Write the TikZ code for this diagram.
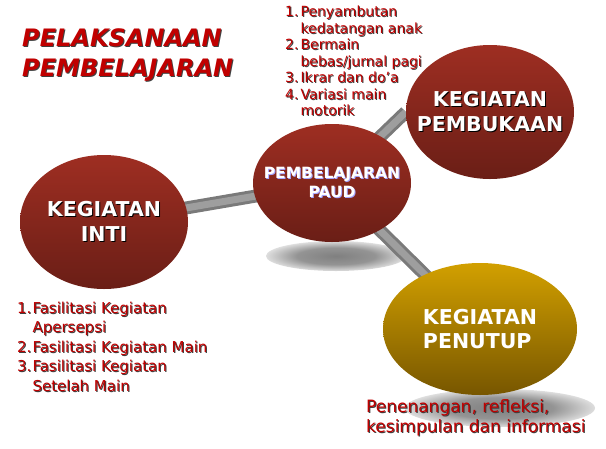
\documentclass[tikz,border=0pt]{standalone}
\usepackage{fontspec}
\setmainfont{DejaVu Sans}
\usetikzlibrary{shapes.geometric,backgrounds}

\definecolor{judulred}{HTML}{C00000}
\definecolor{marontop}{HTML}{9E2E22}
\definecolor{maronbot}{HTML}{6A1E16}
\definecolor{emastop}{HTML}{D2A000}
\definecolor{emasbot}{HTML}{775600}
\newcommand\shd[2][black!75]{\makebox[0pt][l]{\raisebox{-1pt}{\hspace*{1pt}\textcolor{#1}{#2}}}#2}
\newcommand\tengah[1]{\makebox[0pt]{#1}}
\pgfdeclareradialshading{bayangan}{\pgfpoint{0bp}{0bp}}{color(0bp)=(black!50); color(14bp)=(black!42); color(30bp)=(white); color(50bp)=(white)}

\begin{document}
\begin{tikzpicture}[x=1pt,y=-1pt]
        \tikzstyle{kegiatan} = [ellipse, inner sep=0pt, align=center, text=white, font=\bfseries\fontsize{20.5}{25}\selectfont, top color=marontop, bottom color=maronbot]
        \tikzstyle{penutup} = [kegiatan, align=left, top color=emastop, bottom color=emasbot, font=\bfseries\fontsize{20.5}{24}\selectfont]
        \tikzstyle{daftar} = [anchor=north west, inner sep=0pt, text=judulred]
        \tikzstyle{bayang} = [ellipse, inner sep=0pt, shading=bayangan]
        \tikzstyle{batang} = [line width=3pt, draw=black!52, double=black!38, double distance=7pt]

        \useasboundingbox (0,0) rectangle (606,448);

        \node (judul) [daftar, align=left, font=\bfseries\itshape\fontsize{24}{30}\selectfont] at (22,28) {\shd{PELAKSANAAN}\\\shd{PEMBELAJARAN}};

        \node (paud) [kegiatan, minimum width=158pt, minimum height=118pt, font=\bfseries\fontsize{15.5}{19}\selectfont] at (332,183) {\tengah{\shd[blue!35]{PEMBELAJARAN}}\\\tengah{\shd[blue!35]{PAUD}}};
        \node (inti) [kegiatan, minimum width=168pt, minimum height=134pt] at (104,222) {\tengah{\shd[black]{KEGIATAN}}\\\tengah{\shd[black]{INTI}}};
        \node (buka) [kegiatan, minimum width=168pt, minimum height=134pt] at (490,112) {\tengah{\shd[black]{KEGIATAN}}\\\tengah{\shd[black]{PEMBUKAAN}}};
        \node (tutup) [penutup, minimum width=194pt, minimum height=132pt] at (480,329) {KEGIATAN\\PENUTUP};

        \begin{pgfonlayer}{background}
        \node (paudbayang) [bayang, minimum width=140pt, minimum height=30pt] at (336,256) {};
        \node (tutupbayang) [bayang, minimum width=190pt, minimum height=38pt] at (500,408) {};
        \draw [batang] (paud.center) -- (inti.center);
        \draw [batang] (paud.center) -- (buka.west);
        \draw [batang] (paud.center) -- (tutup.center);
        \end{pgfonlayer}

        \node (daftarbuka) [daftar, font=\fontsize{14}{16.5}\selectfont] at (285,4.75) {%
          \begin{tabular}{@{}l@{\hspace{2pt}}l@{}}
            \shd{1.} & \shd{Penyambutan}\\
                     & \shd{kedatangan anak}\\
            \shd{2.} & \shd{Bermain}\\
                     & \shd{bebas/jurnal pagi}\\
            \shd{3.} & \shd{Ikrar dan do’a}\\
            \shd{4.} & \shd{Variasi main}\\
                     & \shd{motorik}
          \end{tabular}};
        \node (daftarinti) [daftar, font=\fontsize{15}{19.5}\selectfont] at (17,299.4) {%
          \begin{tabular}{@{}l@{\hspace{1pt}}l@{}}
            \shd{1.} & \shd{Fasilitasi Kegiatan}\\
                     & \shd{Apersepsi}\\
            \shd{2.} & \shd{Fasilitasi Kegiatan Main}\\
            \shd{3.} & \shd{Fasilitasi Kegiatan}\\
                     & \shd{Setelah Main}
          \end{tabular}};
        \node (daftartutup) [daftar, align=left, font=\fontsize{17}{19.5}\selectfont] at (366,399.5) {\shd{Penenangan, refleksi,}\\\shd{kesimpulan dan informasi}};
\end{tikzpicture}
\end{document}
